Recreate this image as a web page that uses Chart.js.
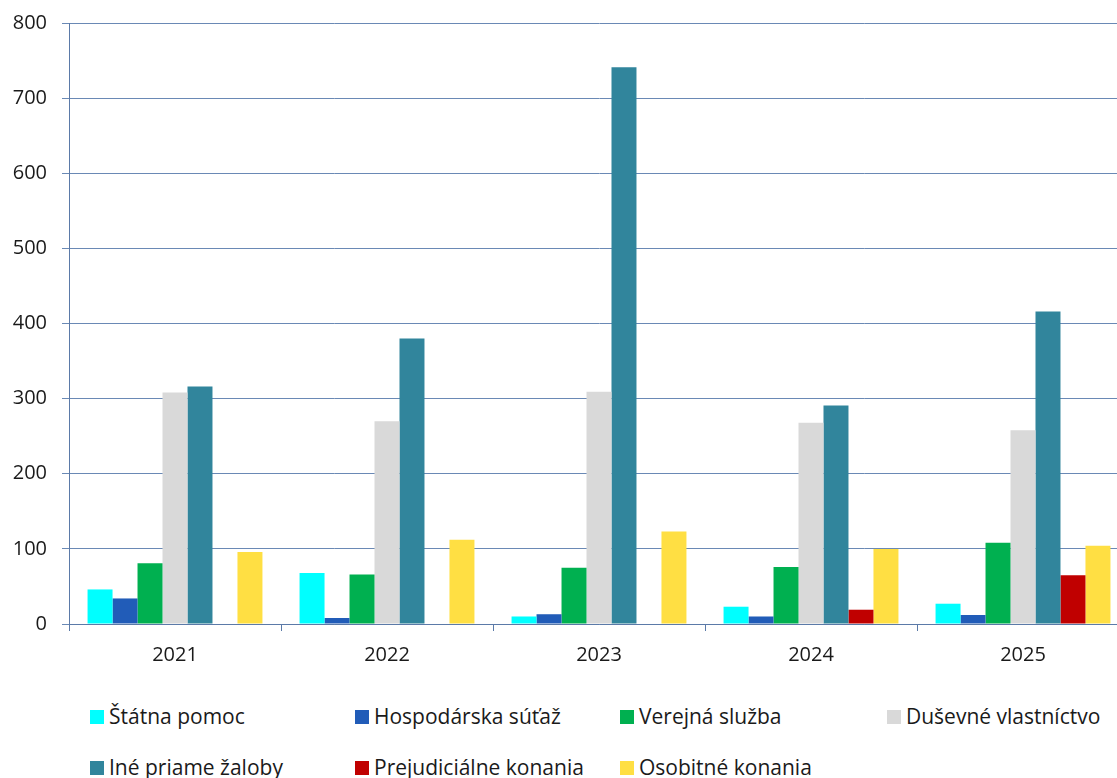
<!DOCTYPE html>
<html>
<head>
<meta charset="utf-8">
<script src="https://cdn.jsdelivr.net/npm/chart.js@4/dist/chart.umd.min.js"></script>
<style>
body { margin:0; overflow:hidden; background:#fff; font-family:"Open Sans", sans-serif; }
#wrap { position:relative; width:1129px; height:778px; overflow:hidden; }
#myChart { position:absolute; left:0; top:-4px; }
#legend { position:absolute; left:0; top:0; }
.item { position:absolute; font-size:21px; color:#1a1a1a; white-space:nowrap; line-height:26px; }
.item span.box { display:inline-block; width:14px; height:14px; margin-right:5px; vertical-align:0px; }
</style>
</head>
<body>
<div id="wrap">
<canvas id="myChart" width="1129" height="694"></canvas>
<div id="legend"></div>
</div>
<script>
var years = ['2021', '2022', '2023', '2024', '2025'];
var seriesNames = ['Štátna pomoc', 'Hospodárska súťaž', 'Verejná služba', 'Duševné vlastníctvo',
	'Iné priame žaloby', 'Prejudiciálne konania', 'Osobitné konania'];
var statnaPomoc = [46, 68, 10, 23, 27];
var hospodarska = [34, 8, 13, 10, 12];
var verejna = [81, 66, 75, 76, 108];
var dusevne = [308, 270, 309, 268, 258];
var inePriame = [316, 380, 741, 291, 416];
var prejudicialne = [0, 0, 0, 19, 65];
var osobitne = [96, 112, 123, 100, 104];
var yTicks = [0, 100, 200, 300, 400, 500, 600, 700, 800];

var colors = ['#00FFFF', '#215CB8', '#00B050', '#D9D9D9', '#31859C', '#C00000', '#FFDF43'];
var values = [statnaPomoc, hospodarska, verejna, dusevne, inePriame, prejudicialne, osobitne];

var datasets = [];
for (var i = 0; i < seriesNames.length; i++) {
	datasets.push({
		label: seriesNames[i],
		data: values[i],
		backgroundColor: colors[i],
		borderWidth: 0,
		categoryPercentage: 0.825,
		barPercentage: 1.0
	});
}

Chart.defaults.font.family = '"Open Sans", sans-serif';
Chart.defaults.font.size = 20;
Chart.defaults.color = '#1a1a1a';

var ctx = document.getElementById('myChart').getContext('2d');
var myChart = new Chart(ctx, {
	type: 'bar',
	data: { labels: years, datasets: datasets },
	options: {
		responsive: false,
		animation: false,
		layout: { padding: { top: 18, right: 0, left: 0, bottom: 0 } },
		plugins: { legend: { display: false }, tooltip: { enabled: false } },
		scales: {
			x: {
				grid: { drawOnChartArea: false, drawTicks: true, tickLength: 7, color: '#5b7aa8', offset: true },
				border: { display: true, color: '#5b7aa8' },
				ticks: { padding: 12 },
				afterFit: function(scale) { scale.height = 66; }
			},
			y: {
				min: 0,
				max: 800,
				afterBuildTicks: function(scale) {
					scale.ticks = yTicks.map(function(v) { return { value: v }; });
				},
				grid: { color: '#6a89b5', tickLength: 7 },
				border: { display: true, color: '#5b7aa8' },
				ticks: { padding: 15 },
				afterFit: function(scale) { scale.width = 69; }
			}
		}
	}
});

// legend in 4 columns
var legendPos = [[90, 703], [355, 703], [620, 703], [887, 703], [90, 754], [355, 754], [620, 754]];
var legend = document.getElementById('legend');
for (var j = 0; j < seriesNames.length; j++) {
	var d = document.createElement('div');
	d.className = 'item';
	d.style.left = legendPos[j][0] + 'px';
	d.style.top = legendPos[j][1] + 'px';
	d.innerHTML = "<span class='box' style='background:" + colors[j] + "'></span>" + seriesNames[j];
	legend.appendChild(d);
}
</script>
</body>
</html>
